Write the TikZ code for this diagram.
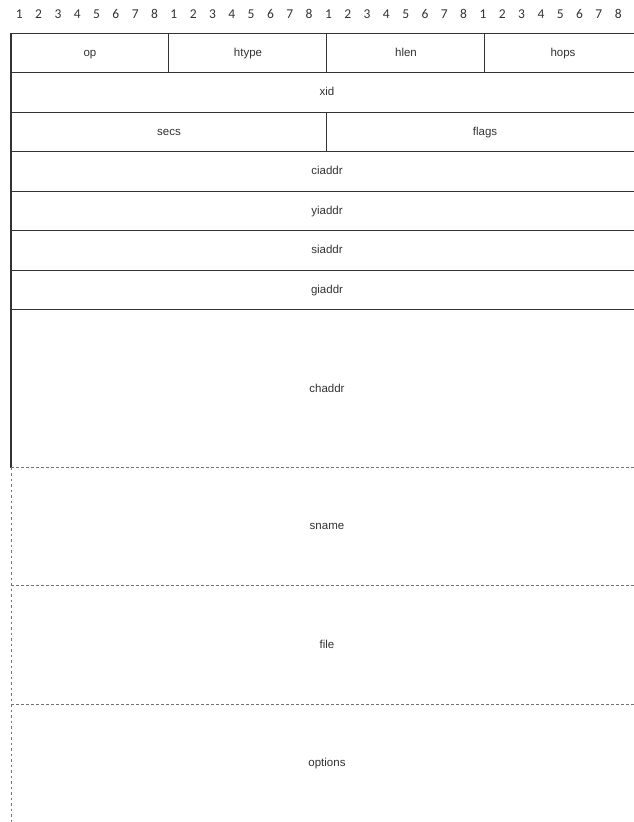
\documentclass[tikz,border=0pt]{standalone}
\usepackage{fontspec}
\setmainfont{Liberation Sans}
\newfontfamily\numfont{Carlito}
\begin{document}
\begin{tikzpicture}[x=1pt,y=-1pt,
  solidline/.style={draw=black!80, line width=1.3pt},
  dashline/.style={draw=black!55, line width=1pt, dash pattern=on 3pt off 2pt},
  dotline/.style={draw=black!55, line width=1pt, dash pattern=on 2.5pt off 3pt},
  lbl/.style={font=\fontsize{11.5}{13}\selectfont, text=black!80, inner sep=0pt, text height=8.5pt, text depth=2.5pt},
  num/.style={font=\numfont\fontsize{13.5}{15}\selectfont, text=black!80, inner sep=0pt}]
\useasboundingbox (0,0) rectangle (634,822);
\fill[white] (0,0) rectangle (634,822);
\begin{scope}
\clip (0,0) rectangle (634,822);
% bit numbers
\foreach \i in {0,...,31}{
  \pgfmathtruncatemacro{\d}{mod(\i,8)+1}
  \node[num] (n\i) at ({19.3+\i*19.32},14) {\d};
}
% solid rows
\foreach \yy in {33.3,72.7,112.3,151.8,191.3,230.8,270.3,309.8}{
  \draw[solidline] (11,\yy) -- (645,\yy);
}
\draw[solidline] (11,33.3) -- (11,467.7);
\draw[solidline] (168.5,33.3) -- (168.5,72.7);
\draw[solidline] (326.5,33.3) -- (326.5,72.7);
\draw[solidline] (484.7,33.3) -- (484.7,72.7);
\draw[solidline] (326.5,112.3) -- (326.5,151.8);
% dashed rows
\foreach \yy in {467.7,585.7,704.3}{
  \draw[dashline] (11,\yy) -- (645,\yy);
}
\draw[dotline] (11,467.7) -- (11,830);
% labels
\node[lbl] (op) at (90,53) {op};
\node[lbl] (htype) at (248,53) {htype};
\node[lbl] (hlen) at (406,53) {hlen};
\node[lbl] (hops) at (563,53) {hops};
\node[lbl] (xid) at (327,92.5) {xid};
\node[lbl] (secs) at (169,132) {secs};
\node[lbl] (flags) at (485,132) {flags};
\node[lbl] (ciaddr) at (327,171.5) {ciaddr};
\node[lbl] (yiaddr) at (327,211) {yiaddr};
\node[lbl] (siaddr) at (327,250.5) {siaddr};
\node[lbl] (giaddr) at (327,290) {giaddr};
\node[lbl] (chaddr) at (327,389) {chaddr};
\node[lbl] (sname) at (327,526.5) {sname};
\node[lbl] (file) at (327,645) {file};
\node[lbl] (options) at (327,763.5) {options};
\end{scope}
\end{tikzpicture}
\end{document}
